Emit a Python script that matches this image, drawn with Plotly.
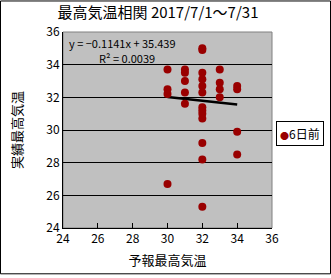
import plotly.graph_objects as go

# Forecast max temperature (x) and actual max temperature (y)
forecast = [30, 30, 30, 30,
            31, 31, 31, 31, 31,
            32, 32, 32, 32, 32, 32, 32, 32, 32, 32, 32, 32, 32,
            33, 33, 33, 33,
            34, 34, 34, 34]
actual = [33.7, 32.5, 32.2, 26.7,
          33.7, 33.5, 33.0, 32.3, 31.6,
          35.0, 34.9, 33.5, 33.1, 32.7, 32.3, 31.4, 31.2, 31.0, 30.7, 29.2, 28.2, 25.3,
          33.7, 32.9, 32.5, 32.0,
          32.7, 32.5, 29.9, 28.5]
series_name = "6日前"
trend_slope = -0.1141
trend_intercept = 35.439
r_squared = 0.0039
trend_x = [30, 34]
tick_vals = [24, 26, 28, 30, 32, 34, 36]

trend_y = [trend_slope * x + trend_intercept for x in trend_x]
marker_color = "#990000"

font_family = "Noto Sans CJK JP, Liberation Sans, sans-serif"

fig = go.Figure()
fig.add_trace(go.Scatter(
    x=trend_x, y=trend_y, mode="lines",
    line=dict(color="black", width=2.5), showlegend=False, hoverinfo="skip"))
fig.add_trace(go.Scatter(
    x=forecast, y=actual, mode="markers", name=series_name, showlegend=False,
    marker=dict(color=marker_color, size=8, line=dict(width=0))))

L, R, T, B = 63, 59, 32, 47
W, H = 331, 278
pw, ph = W - L - R, H - T - B

fig.update_layout(
    width=W, height=H,
    margin=dict(l=L, r=R, t=T, b=B, pad=0),
    paper_bgcolor="white", plot_bgcolor="#C0C0C0",
    font=dict(family=font_family, size=12, color="black"),
    title=dict(text="最高気温相関 2017/7/1～7/31", x=158 / W, xanchor="center",
               y=1 - 13 / H, yanchor="middle", font=dict(size=15)),
    xaxis=dict(range=[24, 36], tickvals=tick_vals, showgrid=False, zeroline=False,
               showline=True, linecolor="black", linewidth=1,
               ticks="inside", ticklen=5, tickcolor="black",
               title=dict(text="予報最高気温", font=dict(size=13), standoff=10)),
    yaxis=dict(range=[24, 36], tickvals=tick_vals, showgrid=True, gridcolor="black", gridwidth=1,
               zeroline=False, showline=True, linecolor="black", linewidth=1,
               ticks="inside", ticklen=5, tickcolor="black",
               title=dict(text="実績最高気温", font=dict(size=13), standoff=20)),
    showlegend=False,
)

# plot-area border (top/right gray)
fig.add_shape(type="rect", xref="paper", yref="paper", x0=0, y0=0, x1=1, y1=1,
              line=dict(color="#808080", width=1), layer="below")
# outer chart border
fig.add_shape(type="rect", xref="paper", yref="paper",
              x0=-(L - 0.5) / pw, x1=(W - L - 0.5) / pw,
              y0=-(B - 0.5) / ph, y1=1 + (T - 0.5) / ph,
              line=dict(color="black", width=1))

fig.add_annotation(text="y = −0.1141x + 35.439", xref="paper", yref="paper",
                   x=4 / pw, y=1 - 11 / ph, xanchor="left", yanchor="middle",
                   showarrow=False, font=dict(size=11))
fig.add_annotation(text="R² = 0.0039", xref="paper", yref="paper",
                   x=(97 - L) / pw, y=1 - 26 / ph, xanchor="left", yanchor="middle",
                   showarrow=False, font=dict(size=11))

# legend box
fig.add_annotation(text=f"<span style='color:{marker_color};font-size:9px'>●</span>{series_name}",
                   xref="paper", yref="paper",
                   x=(300 - L) / pw, y=1 - (135 - T) / ph, xanchor="center", yanchor="middle",
                   showarrow=False, font=dict(size=12), bgcolor="white",
                   bordercolor="black", borderwidth=1, borderpad=3)

fig.write_html("out.html")
